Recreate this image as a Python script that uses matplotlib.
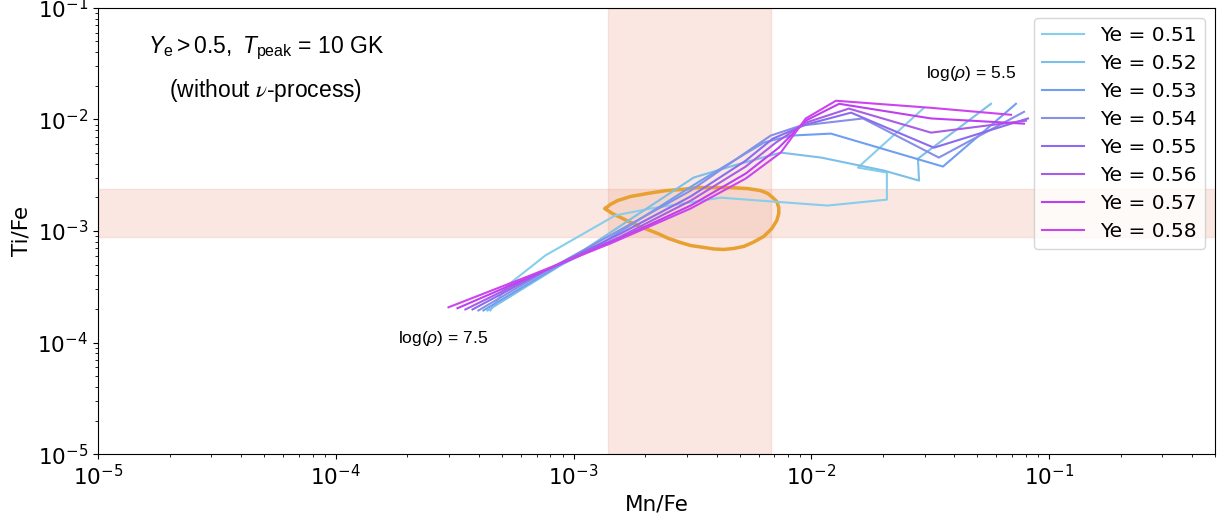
import numpy as np
import matplotlib
matplotlib.use("Agg")
import matplotlib.pyplot as plt

plt.rcParams['mathtext.fontset'] = 'dejavusans'
plt.rcParams['mathtext.rm'] = 'Liberation Sans'
plt.rcParams['mathtext.it'] = 'Liberation Sans:italic'

# Ye tracks: Mn/Fe vs Ti/Fe, from log(rho)=7.5 (lower left) to 5.5 (upper right)
ye_values = [0.51, 0.52, 0.53, 0.54, 0.55, 0.56, 0.57, 0.58]
ye_colors = ['#87ceeb', '#7cbfe8', '#6f9ff0', '#8690e6',
             '#8b6cef', '#a85de6', '#bf3ff0', '#cc44ee']

mn_051 = [4.47e-4, 5.27e-4, 7.62e-4, 1.50e-3, 2.11e-3, 4.16e-3, 6.13e-3, 1.17e-2, 2.08e-2, 2.08e-2, 1.57e-2, 2.98e-2]
ti_051 = [1.94e-4, 3.25e-4, 6.04e-4, 1.38e-3, 1.59e-3, 1.99e-3, 1.87e-3, 1.69e-3, 1.91e-3, 3.34e-3, 3.70e-3, 1.27e-2]

mn_052 = [4.35e-4, 8.81e-4, 3.20e-3, 4.72e-3, 7.44e-3, 1.10e-2, 2.02e-2, 2.84e-2, 2.81e-2, 5.70e-2]
ti_052 = [1.94e-4, 4.91e-4, 3.01e-3, 3.86e-3, 5.04e-3, 4.55e-3, 3.48e-3, 2.83e-3, 4.45e-3, 1.38e-2]

mn_053 = [4.18e-4, 8.40e-4, 1.18e-3, 3.43e-3, 6.31e-3, 8.20e-3, 1.21e-2, 3.58e-2, 7.26e-2]
ti_053 = [1.94e-4, 4.71e-4, 6.70e-4, 2.83e-3, 6.19e-3, 7.16e-3, 7.46e-3, 3.78e-3, 1.38e-2]

mn_054 = [3.98e-4, 8.00e-4, 1.58e-3, 3.11e-3, 5.30e-3, 6.75e-3, 9.03e-3, 1.65e-2, 3.44e-2, 7.85e-2]
ti_054 = [1.94e-4, 4.62e-4, 1.03e-3, 2.30e-3, 5.04e-3, 7.16e-3, 8.79e-3, 1.02e-2, 4.55e-3, 1.17e-2]

mn_055 = [3.76e-4, 7.62e-4, 1.58e-3, 3.11e-3, 5.30e-3, 6.89e-3, 9.48e-3, 1.47e-2, 3.28e-2, 8.16e-2]
ti_055 = [1.98e-4, 4.43e-4, 9.50e-4, 2.04e-3, 4.27e-3, 6.73e-3, 8.98e-3, 1.15e-2, 5.58e-3, 1.02e-2]

mn_056 = [3.51e-4, 7.26e-4, 1.58e-3, 3.11e-3, 5.30e-3, 7.09e-3, 9.48e-3, 1.44e-2, 3.19e-2, 8.00e-2]
ti_056 = [1.98e-4, 4.25e-4, 8.93e-4, 1.87e-3, 3.78e-3, 6.19e-3, 9.35e-3, 1.25e-2, 7.61e-3, 9.75e-3]

mn_057 = [3.25e-4, 6.92e-4, 1.50e-3, 3.11e-3, 5.30e-3, 7.30e-3, 9.48e-3, 1.31e-2, 3.19e-2, 7.85e-2]
ti_057 = [2.03e-4, 4.08e-4, 8.22e-4, 1.69e-3, 3.27e-3, 5.58e-3, 9.75e-3, 1.38e-2, 1.02e-2, 9.16e-3]

mn_058 = [2.98e-4, 6.59e-4, 1.43e-3, 3.11e-3, 5.30e-3, 7.44e-3, 9.48e-3, 1.27e-2, 3.19e-2, 6.92e-2]
ti_058 = [2.07e-4, 4.00e-4, 7.73e-4, 1.59e-3, 2.95e-3, 5.04e-3, 1.02e-2, 1.47e-2, 1.27e-2, 1.10e-2]

mn_tracks = [mn_051, mn_052, mn_053, mn_054, mn_055, mn_056, mn_057, mn_058]
ti_tracks = [ti_051, ti_052, ti_053, ti_054, ti_055, ti_056, ti_057, ti_058]

# observed ranges
ti_band = (8.9e-4, 2.4e-3)
mn_band = (1.4e-3, 6.8e-3)

# confidence contour
contour_mn = [1.36e-3, 1.43e-3, 1.53e-3, 1.74e-3, 2.05e-3, 2.44e-3, 2.82e-3, 3.33e-3, 3.89e-3, 4.58e-3,
              5.40e-3, 6.13e-3, 6.56e-3, 6.89e-3, 7.16e-3, 7.30e-3, 7.30e-3, 7.16e-3, 6.82e-3, 6.31e-3,
              5.67e-3, 5.20e-3, 4.72e-3, 4.28e-3, 3.89e-3, 3.53e-3, 3.11e-3, 2.82e-3, 2.51e-3, 2.26e-3,
              2.05e-3, 1.86e-3, 1.70e-3, 1.58e-3, 1.46e-3, 1.39e-3, 1.36e-3]
contour_ti = [1.59e-3, 1.73e-3, 1.87e-3, 2.04e-3, 2.17e-3, 2.30e-3, 2.35e-3, 2.45e-3, 2.45e-3, 2.45e-3,
              2.40e-3, 2.30e-3, 2.17e-3, 1.99e-3, 1.84e-3, 1.62e-3, 1.43e-3, 1.24e-3, 1.05e-3, 8.93e-4,
              7.88e-4, 7.27e-4, 6.97e-4, 6.83e-4, 6.90e-4, 7.12e-4, 7.41e-4, 7.88e-4, 8.57e-4, 9.50e-4,
              1.03e-3, 1.12e-3, 1.22e-3, 1.32e-3, 1.43e-3, 1.53e-3, 1.59e-3]

fig = plt.figure(figsize=(12.25, 5.22), dpi=100)
ax = fig.add_axes([0.080, 0.130, 0.912, 0.855])

ax.axhspan(ti_band[0], ti_band[1], color='#e9967a', alpha=0.22, lw=1)
ax.axvspan(mn_band[0], mn_band[1], color='#e9967a', alpha=0.22, lw=1)

ax.plot(contour_mn, contour_ti, color='#e8a030', lw=2.5)

for ye, c, mn, ti in zip(ye_values, ye_colors, mn_tracks, ti_tracks):
    ax.plot(mn, ti, color=c, lw=1.5, label='Ye = %.2f' % ye)

ax.set_xscale('log')
ax.set_yscale('log')
ax.set_xlim(1e-5, 0.5)
ax.set_ylim(1e-5, 1e-1)
ax.tick_params(axis='both', which='major', labelsize=15.5)
ax.set_xlabel('Mn/Fe', fontsize=15.5)
ax.set_ylabel('Ti/Fe', fontsize=15.5)

sans = ['Liberation Sans', 'DejaVu Sans']
ax.text(0.150, 0.910, r'$Y_{\rm e} > 0.5,\ T_{\rm peak}$ = 10 GK', transform=ax.transAxes,
        ha='center', va='center', fontsize=16.5, family=sans, math_fontfamily='custom')
ax.text(0.150, 0.814, r'(without $\nu$-process)', transform=ax.transAxes,
        ha='center', va='center', fontsize=16.5, family=sans, math_fontfamily='stix')
ax.text(0.781, 0.852, r'log($\rho$) = 5.5', transform=ax.transAxes,
        ha='center', va='center', fontsize=12.5, family=sans, math_fontfamily='custom')
ax.text(0.309, 0.259, r'log($\rho$) = 7.5', transform=ax.transAxes,
        ha='center', va='center', fontsize=12.5, family=sans, math_fontfamily='custom')

ax.legend(loc='upper right', fontsize=14.5, handlelength=2.1, labelspacing=0.45)

fig.savefig('out.png', dpi=100)
